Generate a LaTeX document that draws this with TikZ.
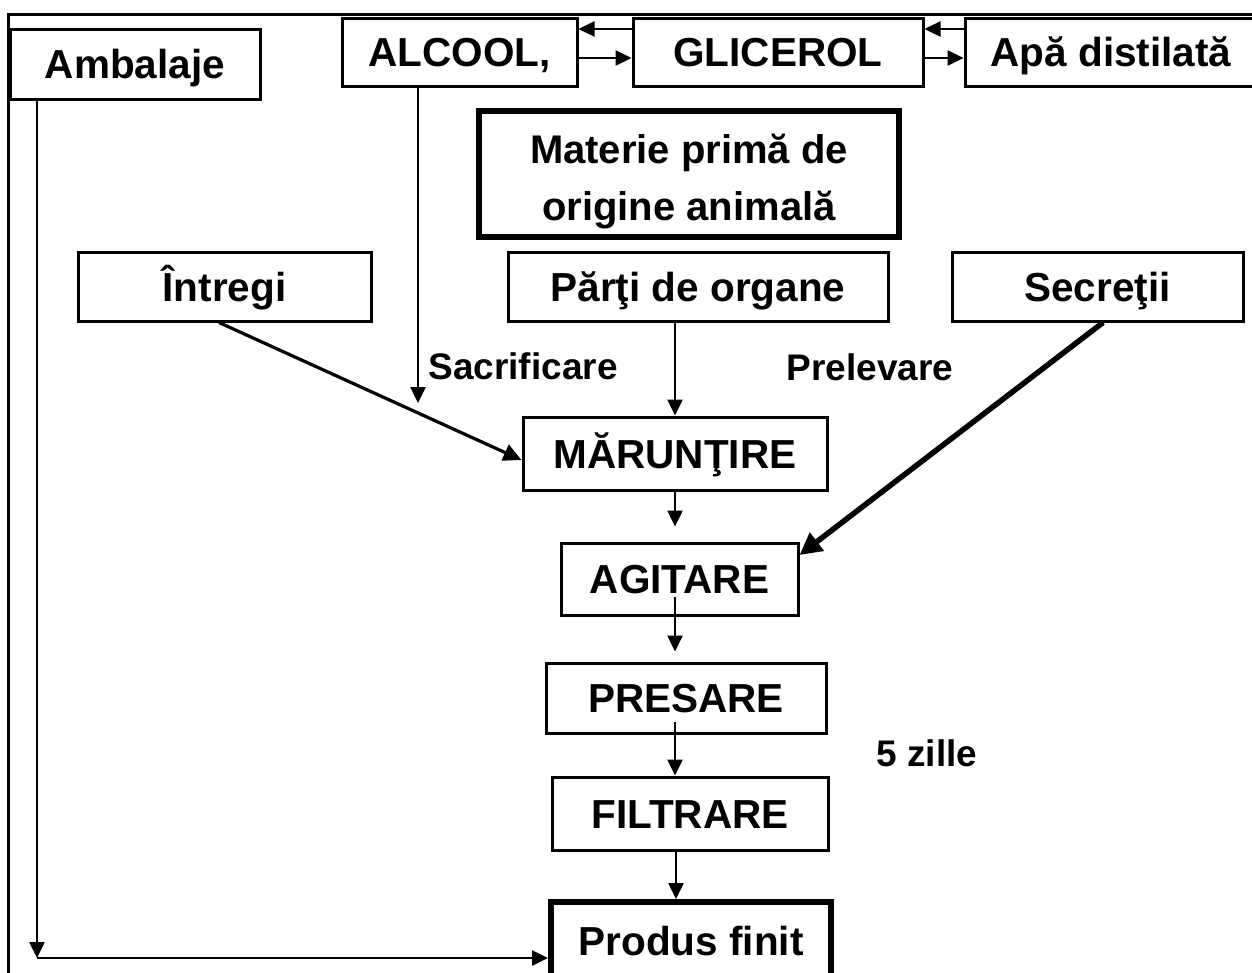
\documentclass[tikz,border=0pt]{standalone}
\usepackage{fontspec}
\setmainfont{Liberation Sans}
\usetikzlibrary{arrows.meta}
\begin{document}
\begin{tikzpicture}[x=1pt,y=-1pt,
  box/.style={draw, line width=3pt, inner sep=0pt, font=\bfseries\fontsize{40.5}{44}\selectfont, text height=36pt, text depth=7pt},
  bigbox/.style={draw, line width=5.5pt, inner sep=0pt, align=center, font=\bfseries\fontsize{40}{57}\selectfont},
  lbl/.style={inner sep=0pt, font=\bfseries\fontsize{37}{40}\selectfont},
  arr/.style={line width=2.5pt, -{Triangle[length=16pt,width=15pt]}},
  arrm/.style={line width=3.2pt, -{Triangle[length=18pt,width=17pt]}},
  arrk/.style={line width=5.5pt, -{Triangle[length=22pt,width=22pt]}}]
\useasboundingbox (0,0) rectangle (1252,972);
\begin{scope}
\clip (0,0) rectangle (1252,972);
% outer frame
\draw[line width=3pt] (8.5,14.5) rectangle (1262,1010);
% top row
\node[box, minimum width=250pt, minimum height=70pt] (amb) at (135,64) {Ambalaje};
\node[box, minimum width=235pt, minimum height=68pt] (alc) at (459.5,52) {ALCOOL,};
\node[box, minimum width=290pt, minimum height=68pt] (gli) at (778,52) {GLICEROL};
\node[box, minimum width=292pt, minimum height=68pt] (apa) at (1111,52) {Apă distilată};
% raw material
\node[bigbox, minimum width=420pt, minimum height=126pt] (mat) at (689,174) {\rule{0pt}{44pt}Materie primă de\\origine animală};
\node[box, minimum width=293pt, minimum height=69pt] (intr) at (224.5,286.5) {Întregi};
\node[box, minimum width=380pt, minimum height=69pt] (parti) at (698,286.5) {Părţi de organe};
\node[box, minimum width=291pt, minimum height=69pt] (secr) at (1097.5,286.5) {Secreţii};
% process
\node[box, minimum width=304pt, minimum height=73pt] (mar) at (675,453.5) {MĂRUNŢIRE};
\node[box, minimum width=237pt, minimum height=72pt] (agi) at (679.5,579) {AGITARE};
\node[box, minimum width=280pt, minimum height=70pt] (pres) at (686,698) {PRESARE};
\node[box, minimum width=276pt, minimum height=73pt] (filt) at (690,813.5) {FILTRARE};
\node[box, line width=6pt, minimum width=280pt, minimum height=78pt] (prod) at (691,941) {Produs finit};
% labels
\node[lbl] (sac) at (523,366) {Sacrificare};
\node[lbl] (prel) at (870,367) {Prelevare};
\node[lbl] (zile) at (927,753) {5 zille};
% coordinates
\coordinate (sacend) at (418,403);
\coordinate (corner) at (37,958);
% top arrows
\draw[arr] ([yshift=23pt]gli.west) -- ([yshift=23pt]alc.east);
\draw[arr] ([yshift=-6pt]alc.east) -- ([yshift=-6pt]gli.west);
\draw[arr] ([yshift=23pt]apa.west) -- ([yshift=23pt]gli.east);
\draw[arr] ([yshift=-6pt]gli.east) -- ([yshift=-6pt]apa.west);
% connectors
\draw[arr] (alc.south -| sacend) -- (sacend);
\draw[arrm] ([xshift=-5.5pt]intr.south) -- ([yshift=-6.5pt]mar.west);
\draw[arr] (parti.south -| mar.north) -- (mar.north);
\draw[arrk] ([xshift=5.5pt]secr.south) -- ([yshift=24pt]agi.east);
\draw[arr, shorten >=15pt] (mar.south) -- (mar.south |- agi.north);
\draw[arr, shorten >=10pt] ([xshift=-4.5pt,yshift=-18pt]agi.center) -- ([xshift=-11pt]pres.north);
\draw[arr] ([xshift=-11pt,yshift=-24pt]pres.center) -- ([xshift=-15pt]filt.north);
\draw[arr] ([xshift=-14pt]filt.south) -- ([xshift=-15pt]prod.north);
\draw[arr] (amb.south -| corner) -- (corner);
\draw[arr] (corner) -- (corner -| prod.west);
\end{scope}
\end{tikzpicture}
\end{document}
